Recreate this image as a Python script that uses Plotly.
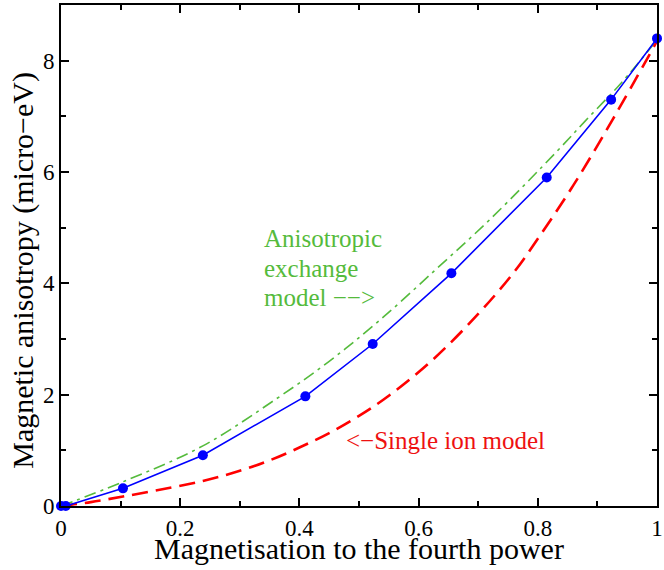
import plotly.graph_objects as go

# Blue computed points
m4_points = [0.0, 0.008, 0.104, 0.238, 0.41, 0.523, 0.655, 0.815, 0.923, 1.0]
aniso_points = [0.0, 0.0, 0.317, 0.913, 1.97, 2.91, 4.18, 5.90, 7.30, 8.40]

# Anisotropic exchange model (green dash-dot)
m4_exch = [0.0, 0.104, 0.238, 0.362, 0.45, 0.534, 0.63, 0.72, 0.832, 0.879, 0.94, 1.0]
aniso_exch = [0.0, 0.435, 1.08, 1.93, 2.6, 3.33, 4.26, 5.15, 6.37, 6.91, 7.6, 8.37]

# Single ion model (red dashed)
m4_single = [0.0, 0.05, 0.104, 0.17, 0.238, 0.296, 0.35, 0.4, 0.45, 0.5, 0.55, 0.623, 0.7, 0.76, 0.8, 0.859, 0.926, 1.0]
aniso_single = [0.0, 0.07, 0.17, 0.3, 0.45, 0.62, 0.82, 1.05, 1.31, 1.62, 1.98, 2.62, 3.45, 4.2, 4.8, 5.75, 6.95, 8.35]

x_ticks = [0, 0.2, 0.4, 0.6, 0.8, 1]
x_ticklabels = ["0", "0.2", "0.4", "0.6", "0.8", "1"]
y_ticks = [0, 2, 4, 6, 8]
y_ticklabels = ["0", "2", "4", "6", "8"]

x_title = "Magnetisation to the fourth power"
y_title = "Magnetic anisotropy (micro−eV)"
exch_label_lines = ["Anisotropic", "exchange", "model −−>"]
exch_label_y = [4.80, 4.26, 3.74]
single_label = "<−Single ion model"

GREEN = "#55bb3c"
FONT = "Liberation Serif, Times New Roman, serif"

fig = go.Figure()
fig.add_trace(go.Scatter(x=m4_exch, y=aniso_exch, mode="lines", line_shape="spline",
                         line=dict(color=GREEN, width=1.6, dash="12px,5px,3px,5px"),
                         hoverinfo="skip"))
fig.add_trace(go.Scatter(x=m4_single, y=aniso_single, mode="lines", line_shape="spline",
                         line=dict(color="#ff0000", width=2.6, dash="16px,8px"),
                         hoverinfo="skip"))
fig.add_trace(go.Scatter(x=m4_points, y=aniso_points, mode="lines+markers",
                         line=dict(color="#0000ff", width=1.6),
                         marker=dict(color="#0000ff", size=10),
                         cliponaxis=False))

for txt, yy in zip(exch_label_lines, exch_label_y):
    fig.add_annotation(x=0.338, y=yy, xref="x", yref="y", showarrow=False,
                       text=txt, align="left", xanchor="left", yanchor="middle",
                       font=dict(family=FONT, size=25, color=GREEN))
fig.add_annotation(x=0.474, y=1.18, xref="x", yref="y", showarrow=False,
                   text=single_label, align="left",
                   xanchor="left", yanchor="middle",
                   font=dict(family=FONT, size=25, color="#ee1111"))

# axis titles placed as annotations for precise positioning
fig.add_annotation(x=0.5, y=-0.085, xref="paper", yref="paper", showarrow=False,
                   text=x_title, xanchor="center", yanchor="middle",
                   font=dict(family=FONT, size=30, color="black"))
fig.add_annotation(x=-0.065, y=0.47, xref="paper", yref="paper", showarrow=False,
                   text=y_title, textangle=-90, xanchor="center", yanchor="middle",
                   font=dict(family=FONT, size=30, color="black"))

axis_common = dict(showline=True, linecolor="black", linewidth=2, mirror="allticks",
                   ticks="inside", ticklen=8, tickwidth=1.5, tickcolor="black",
                   showgrid=False, zeroline=False, ticklabeloverflow="allow",
                   tickfont=dict(family=FONT, size=23, color="black"))

fig.update_xaxes(range=[0, 1], tickvals=x_ticks, ticktext=x_ticklabels,
                 minor=dict(ticks="inside", ticklen=5, dtick=0.1, tickwidth=1.5, tickcolor="black"),
                 **axis_common)
fig.update_yaxes(range=[0, 9], tickvals=y_ticks, ticktext=y_ticklabels,
                 minor=dict(ticks="inside", ticklen=5, dtick=1, tickwidth=1.5, tickcolor="black"),
                 **axis_common)

fig.update_layout(width=664, height=570, showlegend=False,
                  margin=dict(l=61, r=1, t=5, b=64),
                  plot_bgcolor="white", paper_bgcolor="white")

fig.write_html("out.html")
